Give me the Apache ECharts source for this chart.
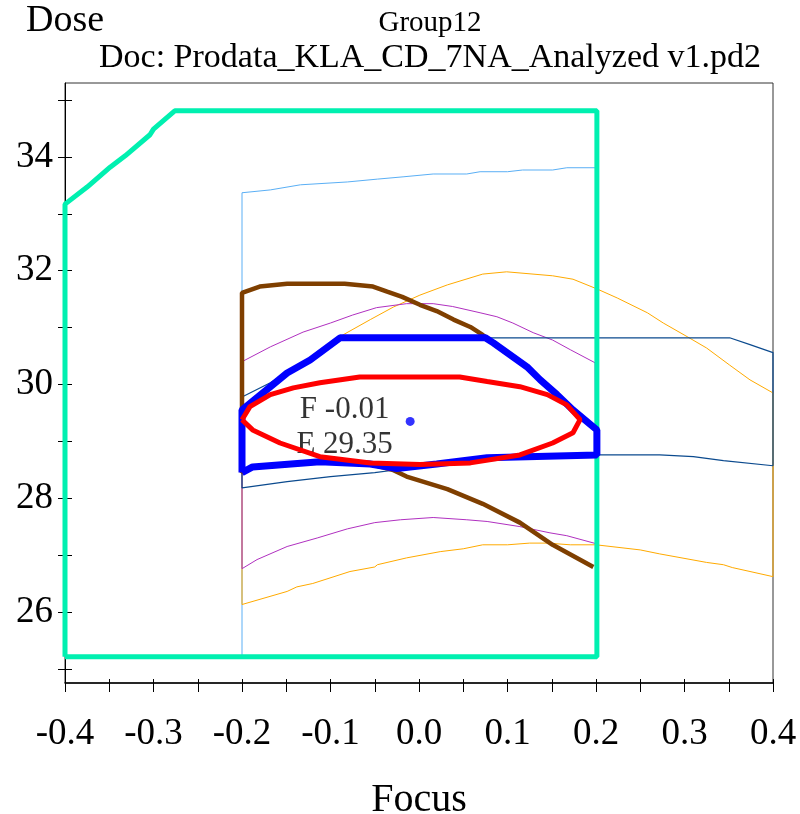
<!DOCTYPE html>
<html>
<head>
<meta charset="utf-8">
<script src="https://cdn.jsdelivr.net/npm/echarts@6/dist/echarts.min.js"></script>
<style>
  html, body { margin: 0; padding: 0; background: #fff; }
  #chart { width: 800px; height: 814px; }
</style>
</head>
<body>
<div id="chart"></div>
<script>
// axis ticks and labels
var focusTicks = [-0.4, -0.35, -0.3, -0.25, -0.2, -0.15, -0.1, -0.05, 0, 0.05, 0.1, 0.15, 0.2, 0.25, 0.3, 0.35, 0.4];
var focusLabels = [-0.4, -0.3, -0.2, -0.1, 0, 0.1, 0.2, 0.3, 0.4];
var doseTicks = [25, 26, 27, 28, 29, 30, 31, 32, 33, 34, 35];
var doseLabels = [26, 28, 30, 32, 34];

// [focus, dose] traces
var windowGreen = [[-0.4,25.21],[-0.4,33.17],[-0.375,33.47],[-0.349,33.82],[-0.332,34.02],[-0.304,34.39],[-0.3,34.49],[-0.276,34.81],[0.201,34.81],[0.201,25.21],[-0.4,25.21]];
var lightBlue = [[-0.2,25.21],[-0.2,33.37],[-0.168,33.42],[-0.134,33.51],[-0.081,33.56],[-0.047,33.61],[-0.018,33.65],[0.016,33.70],[0.054,33.70],[0.069,33.74],[0.1,33.74],[0.117,33.77],[0.151,33.77],[0.167,33.81],[0.201,33.81]];
var orange = [[0.4,26.62],[0.354,26.78],[0.344,26.83],[0.325,26.87],[0.272,27.02],[0.25,27.09],[0.2,27.18],[0.171,27.18],[0.145,27.21],[0.125,27.21],[0.1,27.18],[0.072,27.18],[0.05,27.11],[0.024,27.06],[-0.014,26.95],[-0.047,26.83],[-0.05,26.79],[-0.078,26.71],[-0.12,26.5],[-0.138,26.44],[-0.149,26.36],[-0.2,26.13],[-0.2,29.6],[-0.149,30.2],[-0.123,30.45],[-0.086,30.87],[-0.055,31.14],[-0.029,31.36],[0.001,31.57],[0.032,31.75],[0.072,31.94],[0.099,31.98],[0.151,31.91],[0.174,31.85],[0.201,31.68],[0.224,31.52],[0.258,31.26],[0.276,31.08],[0.303,30.84],[0.325,30.64],[0.351,30.34],[0.374,30.08],[0.4,29.85],[0.4,26.62]];
var purple = [[-0.2,30.4],[-0.168,30.66],[-0.131,30.92],[-0.1,31.08],[-0.075,31.22],[-0.048,31.35],[-0.014,31.42],[0.016,31.42],[0.038,31.37],[0.069,31.26],[0.088,31.19],[0.106,31.08],[0.129,30.91],[0.151,30.78],[0.171,30.61],[0.199,30.38],[0.2,27.2],[0.167,27.34],[0.148,27.39],[0.114,27.5],[0.077,27.59],[0.054,27.62],[0.016,27.66],[-0.021,27.62],[-0.05,27.57],[-0.081,27.46],[-0.115,27.3],[-0.149,27.15],[-0.183,26.92],[-0.2,26.76],[-0.2,30.4]];
var darkBlue = [[0.4,28.57],[0.344,28.66],[0.31,28.73],[0.272,28.76],[0.205,28.76],[0.077,28.7],[-0.025,28.5],[-0.05,28.45],[-0.1,28.38],[-0.149,28.29],[-0.2,28.18],[-0.2,29.78],[-0.168,30.03],[-0.13,30.4],[-0.09,30.82],[0.351,30.82],[0.374,30.7],[0.4,30.56],[0.4,28.57]];
var brown = [[0.197,26.79],[0.151,27.18],[0.114,27.57],[0.072,27.9],[0.032,28.16],[-0.014,28.38],[-0.03,28.5],[-0.055,28.6],[-0.112,28.63],[-0.188,28.54],[-0.2,28.45],[-0.2,31.61],[-0.18,31.72],[-0.149,31.77],[-0.084,31.77],[-0.052,31.72],[-0.036,31.63],[-0.019,31.54],[0.001,31.4],[0.02,31.29],[0.039,31.14],[0.058,31.01],[0.072,30.87],[0.084,30.73],[0.103,30.52],[0.122,30.31],[0.137,30.08],[0.156,29.82],[0.174,29.55],[0.2,29.2]];
var windowBlue = [[-0.2,28.45],[-0.2,29.55],[-0.149,30.2],[-0.123,30.43],[-0.089,30.82],[0.075,30.82],[0.084,30.73],[0.103,30.52],[0.122,30.31],[0.137,30.08],[0.156,29.82],[0.174,29.55],[0.201,29.2],[0.201,28.76],[0.077,28.71],[0.02,28.6],[-0.025,28.52],[-0.055,28.6],[-0.112,28.64],[-0.188,28.55],[-0.2,28.45]];
var ellipseRed = [[-0.2,29.38],[-0.191,29.61],[-0.168,29.82],[-0.142,29.94],[-0.112,30.03],[-0.067,30.13],[0.046,30.13],[0.077,30.05],[0.114,29.96],[0.145,29.82],[0.167,29.64],[0.182,29.38],[0.174,29.15],[0.151,28.97],[0.114,28.76],[0.058,28.62],[0.001,28.59],[-0.055,28.62],[-0.112,28.73],[-0.157,28.97],[-0.188,29.2],[-0.2,29.38]];
var optimum = [[-0.01, 29.35]];

var serif = '"Liberation Serif", "DejaVu Serif", serif';

function trace(name, data, color, width) {
    return {
        name: name,
        type: 'line',
        data: data,
        showSymbol: false,
        symbol: 'none',
        clip: false,
        silent: true,
        lineStyle: { color: color, width: width }
    };
}

var chart = echarts.init(document.getElementById('chart'));
var option = {
    animation: false,
    backgroundColor: '#fff',
    grid: { left: 65, right: 27, top: 83, bottom: 131, outerBoundsMode: 'none', containLabel: false,
        show: true, borderColor: '#333', borderWidth: 1 },
    graphic: [
        { type: 'text', x: 430, y: 9, style: { text: 'Group12', fill: '#000', font: '29px ' + serif, align: 'center', verticalAlign: 'top' } },
        { type: 'text', x: 430, y: 41, style: { text: 'Doc: Prodata_KLA_CD_7NA_Analyzed v1.pd2', fill: '#000', font: '34px ' + serif, align: 'center', verticalAlign: 'top' } }
    ],
    xAxis: [{
        type: 'value', min: -0.4, max: 0.4, position: 'bottom',
        name: 'Focus', nameLocation: 'middle', nameGap: 97,
        nameTextStyle: { fontSize: 40, fontFamily: serif, color: '#000' },
        axisLine: { show: true, onZero: false, lineStyle: { color: '#000', width: 1.5 } },
        axisTick: { show: true, customValues: focusTicks, length: 9, lineStyle: { color: '#000' } },
        axisLabel: { customValues: focusLabels, formatter: function (v) { return v.toFixed(1); },
            fontSize: 37, fontFamily: serif, color: '#000', margin: 33 },
        splitLine: { show: false }
    }, {
        type: 'value', min: -0.4, max: 0.4, position: 'bottom',
        axisLine: { show: false, onZero: false },
        axisTick: { show: true, inside: true, customValues: focusTicks, length: 4, lineStyle: { color: '#000' } },
        axisLabel: { show: false },
        splitLine: { show: false }
    }],
    yAxis: [{
        type: 'value', min: 24.75, max: 35.3, position: 'left',
        name: 'Dose', nameLocation: 'end', nameGap: 43,
        nameTextStyle: { fontSize: 38, fontFamily: serif, color: '#000' },
        axisLine: { show: true, onZero: false, lineStyle: { color: '#000', width: 1 } },
        axisTick: { show: true, customValues: doseTicks, length: 7, lineStyle: { color: '#000' } },
        axisLabel: { customValues: doseLabels, fontSize: 37, fontFamily: serif, color: '#000', margin: 12 },
        splitLine: { show: false }
    }, {
        type: 'value', min: 24.75, max: 35.3, position: 'left',
        axisLine: { show: false, onZero: false },
        axisTick: { show: true, inside: true, customValues: doseTicks, length: 7, lineStyle: { color: '#000' } },
        axisLabel: { show: false },
        splitLine: { show: false }
    }],
    series: [
        trace('lightBlue', lightBlue, '#5AAFF5', 1),
        trace('orange', orange, '#FFAA00', 1),
        trace('purple', purple, '#B030C0', 1),
        trace('darkBlue', darkBlue, '#0B4A8E', 1.2),
        trace('window', windowGreen, '#00F0B0', 5),
        trace('brown', brown, '#7F3F00', 4.5),
        trace('process', windowBlue, '#0000FF', 7),
        trace('ellipse', ellipseRed, '#FF0000', 5),
        {
            name: 'optimum', type: 'scatter', data: optimum, symbolSize: 9, clip: false, silent: true,
            itemStyle: { color: '#0000FF' },
            label: {
                show: true, position: [-61, 10], align: 'center', verticalAlign: 'middle',
                fontSize: 31, fontFamily: serif, color: '#000', lineHeight: 35,
                textBorderWidth: 0,
                formatter: function (p) { return 'F ' + p.value[0].toFixed(2) + '\nE ' + p.value[1].toFixed(2); }
            }
        }
    ]
};
chart.setOption(option);
</script>
</body>
</html>
